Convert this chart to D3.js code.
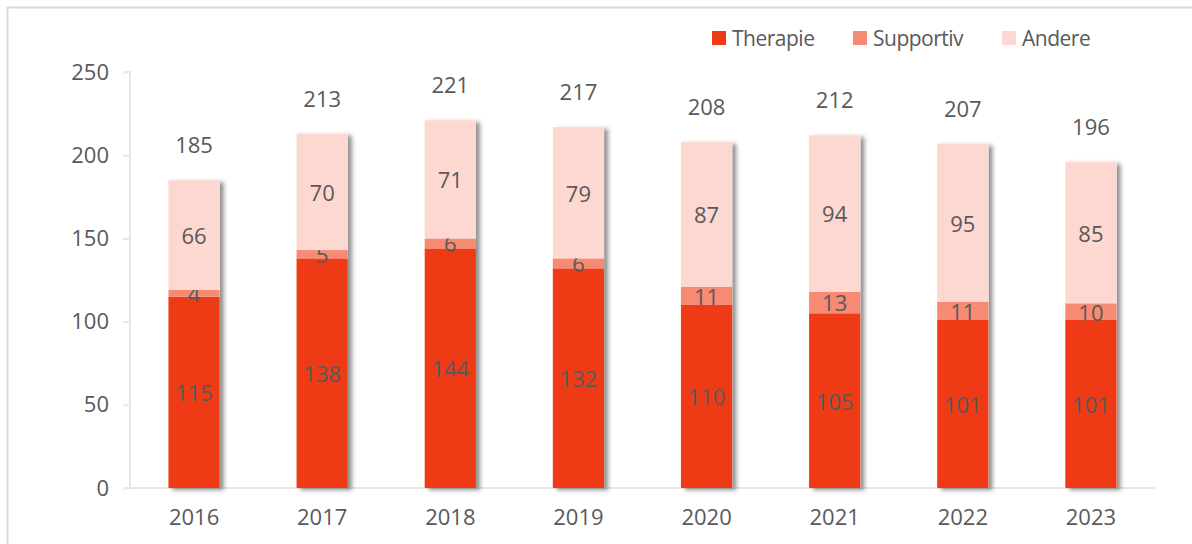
<!DOCTYPE html>
<html>
<head>
<meta charset="utf-8">
<script src="https://cdn.jsdelivr.net/npm/d3@7"></script>
<style>
  body { margin: 0; background: #fff; }
  svg text { font-family: "Open Sans", "Noto Sans", sans-serif; fill: #595959; }
</style>
</head>
<body>
<div id="chart"></div>
<script>
// data
let years = ["2016", "2017", "2018", "2019", "2020", "2021", "2022", "2023"];
let therapie = [115, 138, 144, 132, 110, 105, 101, 101];
let supportiv = [4, 5, 6, 6, 11, 13, 11, 10];
let andere = [66, 70, 71, 79, 87, 94, 95, 85];
let seriesNames = ["Therapie", "Supportiv", "Andere"];
let seriesColors = ["#ee3b16", "#f68a73", "#fdd8d1"];
let yTicks = [0, 50, 100, 150, 200, 250];

let width = 1192, height = 544;

let svg = d3.select("#chart").append("svg")
    .attr("width", width)
    .attr("height", height);

// drop shadow for bars
let defs = svg.append("defs");
let filter = defs.append("filter")
    .attr("id", "shadow")
    .attr("x", "-20%").attr("y", "-5%")
    .attr("width", "150%").attr("height", "115%");
filter.append("feDropShadow")
    .attr("dx", 4).attr("dy", 2)
    .attr("stdDeviation", 2)
    .attr("flood-color", "#444")
    .attr("flood-opacity", 0.6);

// frame
svg.append("path")
    .attr("d", `M7.5,${height} L7.5,7.5 L${width},7.5`)
    .attr("fill", "none")
    .attr("stroke", "#d9d9d9")
    .attr("stroke-width", 2);

let x = d3.scaleBand()
    .domain(years)
    .range([130, 1155])
    .paddingInner(0.6)
    .paddingOuter(0.3);

let y = d3.scaleLinear()
    .domain([0, 250])
    .range([488, 72]);

// axes
let yAxis = svg.append("g")
    .attr("transform", "translate(130,0)")
    .call(d3.axisLeft(y).tickValues(yTicks).tickSize(7).tickPadding(14));
yAxis.select(".domain").attr("stroke", "#ebe7dc").attr("stroke-width", 2)
    .attr("d", `M-7,${y(250)}H0V${y(0)}`);
yAxis.selectAll(".tick line").attr("stroke", "#ebe7dc").attr("stroke-width", 2);
yAxis.selectAll(".tick text").style("font-size", "22px").attr("fill", "#595959");

let xAxis = svg.append("g")
    .attr("transform", `translate(0,${y(0)})`)
    .call(d3.axisBottom(x).tickSize(0).tickPadding(21));
xAxis.select(".domain").attr("stroke", "#ebe7dc").attr("stroke-width", 2)
    .attr("d", "M123,0H1155");
xAxis.selectAll(".tick text").style("font-size", "22px").attr("fill", "#595959")
    .attr("dy", "0.71em");

// stacked data
let rows = years.map((yr, i) => ({year: yr, Therapie: therapie[i], Supportiv: supportiv[i], Andere: andere[i]}));
let stacked = d3.stack().keys(seriesNames)(rows);

let barGroup = svg.append("g");

// shadow underlay per bar (full stack)
barGroup.selectAll("rect.bg")
    .data(rows)
    .join("rect")
    .attr("class", "bg")
    .attr("x", d => x(d.year))
    .attr("y", d => y(d.Therapie + d.Supportiv + d.Andere))
    .attr("width", x.bandwidth())
    .attr("height", d => y(0) - y(d.Therapie + d.Supportiv + d.Andere))
    .attr("fill", "#fff")
    .attr("filter", "url(#shadow)");

stacked.forEach(function (layer, li) {
    barGroup.selectAll("rect.s" + li)
        .data(layer)
        .join("rect")
        .attr("class", "s" + li)
        .attr("x", d => x(d.data.year))
        .attr("y", d => y(d[1]))
        .attr("width", x.bandwidth())
        .attr("height", d => y(d[0]) - y(d[1]))
        .attr("fill", seriesColors[li]);

    barGroup.selectAll("text.l" + li)
        .data(layer)
        .join("text")
        .attr("class", "l" + li)
        .attr("x", d => x(d.data.year) + x.bandwidth() / 2)
        .attr("y", d => (y(d[0]) + y(d[1])) / 2)
        .attr("text-anchor", "middle")
        .attr("dominant-baseline", "central")
        .style("font-size", "22px")
        .text(d => d.data[seriesNames[li]]);
});

// totals
barGroup.selectAll("text.total")
    .data(rows)
    .join("text")
    .attr("class", "total")
    .attr("x", d => x(d.year) + x.bandwidth() / 2)
    .attr("y", d => y(d.Therapie + d.Supportiv + d.Andere) - 36)
    .attr("text-anchor", "middle")
    .attr("dominant-baseline", "central")
    .style("font-size", "22px")
    .text(d => d.Therapie + d.Supportiv + d.Andere);

// legend
let legendX = [712, 853, 1002];
let legend = svg.append("g");
seriesNames.forEach(function (name, i) {
    legend.append("rect")
        .attr("x", legendX[i])
        .attr("y", 31)
        .attr("width", 14)
        .attr("height", 14)
        .attr("fill", seriesColors[i]);
    legend.append("text")
        .attr("x", legendX[i] + 20)
        .attr("y", 38)
        .attr("dominant-baseline", "central")
        .style("font-size", "21px")
        .style("letter-spacing", "-0.5px")
        .text(name);
});
</script>
</body>
</html>
